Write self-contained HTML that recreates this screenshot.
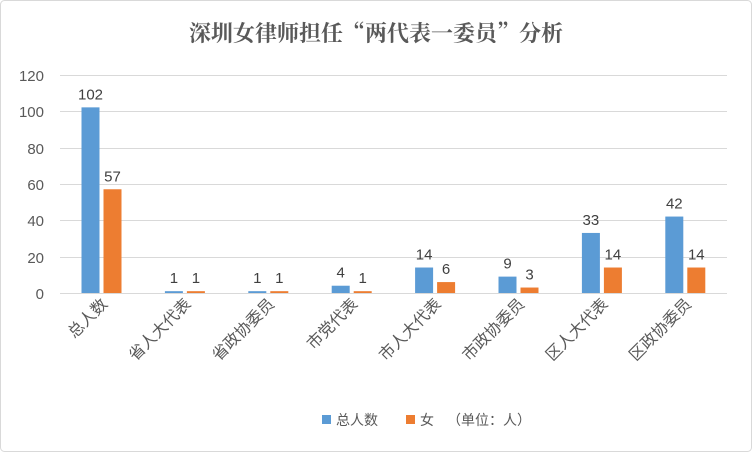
<!DOCTYPE html>
<html><head><meta charset="utf-8"><style>
body{margin:0;background:#fff;}
svg{display:block;font-family:"Liberation Sans","Noto Sans CJK SC",sans-serif;}
</style></head><body>
<svg width="752" height="452" viewBox="0 0 752 452">
<rect x="0.5" y="0.5" width="751" height="451" rx="4" fill="#fff" stroke="#d9d9d9"/>
<text x="376" y="41" text-anchor="middle" font-family="'Noto Serif CJK SC',serif" font-weight="bold" font-size="22" fill="#595959">深圳女律师担任“两代表一委员”分析</text>
<g stroke="#d9d9d9" stroke-width="1">
<line x1="60" x2="727" y1="75.5" y2="75.5"/>
<line x1="60" x2="727" y1="111.5" y2="111.5"/>
<line x1="60" x2="727" y1="148.5" y2="148.5"/>
<line x1="60" x2="727" y1="184.5" y2="184.5"/>
<line x1="60" x2="727" y1="220.5" y2="220.5"/>
<line x1="60" x2="727" y1="257.5" y2="257.5"/>
<line x1="60" x2="727" y1="293.5" y2="293.5"/>
</g>
<g font-size="15" fill="#595959" text-anchor="end">
<text x="44" y="81">120</text><text x="44" y="117">100</text><text x="44" y="154">80</text><text x="44" y="190">60</text><text x="44" y="226">40</text><text x="44" y="263">20</text><text x="44" y="299">0</text>
</g>
<g id="bars"></g>
<g font-size="15" fill="#404040" text-anchor="middle" id="vals"></g>
<g font-size="16" fill="#595959" id="cats"></g>
<rect x="322" y="415" width="9" height="9" fill="#5b9bd5"/>
<text x="336" y="425" font-size="14" fill="#595959">总人数</text>
<rect x="406" y="415" width="9" height="9" fill="#ed7d31"/>
<text x="420" y="425" font-size="14" fill="#595959">女</text>
<text x="447" y="425" font-size="14" fill="#595959">（单位：人）</text>
<script>
var names=["总人数","省人大代表","省政协委员","市党代表","市人大代表","市政协委员","区人大代表","区政协委员"];
var a=[102,1,1,4,14,9,33,42],b=[57,1,1,1,6,3,14,14];
var ns="http://www.w3.org/2000/svg",bars=document.getElementById("bars"),vals=document.getElementById("vals"),cats=document.getElementById("cats");
function el(t,at,p,tx){var e=document.createElementNS(ns,t);for(var k in at)e.setAttribute(k,at[k]);if(tx)e.textContent=tx;p.appendChild(e);}
for(var i=0;i<8;i++){var c=101.5+i*83.4;
var ha=a[i]*1.82,hb=b[i]*1.82;
el("rect",{x:c-20,y:293-ha,width:18,height:ha,fill:"#5b9bd5"},bars);
el("rect",{x:c+2,y:293-hb,width:18,height:hb,fill:"#ed7d31"},bars);
el("text",{x:c-11,y:293-ha-8},vals,a[i]);
el("text",{x:c+11,y:293-hb-8},vals,b[i]);
el("text",{x:0,y:0,"text-anchor":"end",transform:"translate("+(c+7)+",305) rotate(-45)"},cats,names[i]);}
</script>
</svg>
</body></html>
